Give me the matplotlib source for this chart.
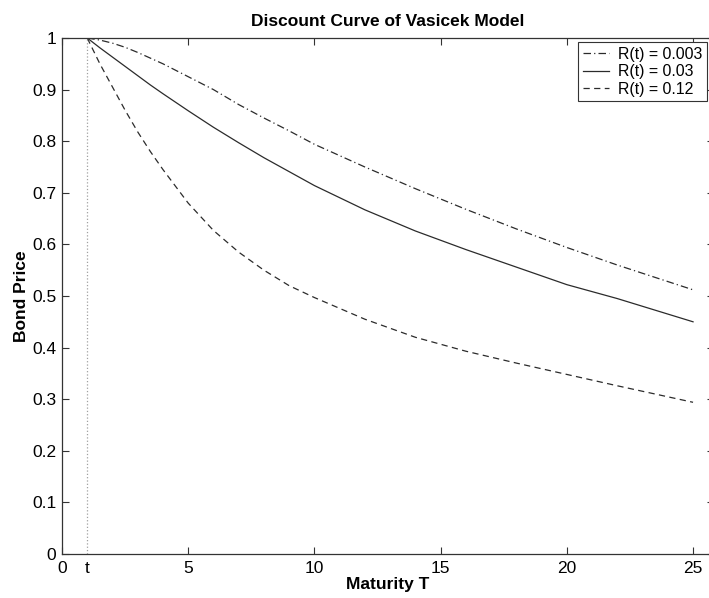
import matplotlib
matplotlib.use("Agg")
import matplotlib.pyplot as plt
from matplotlib.ticker import FuncFormatter

# Maturities (years) and read-off bond prices
maturity = [1, 1.5, 2, 2.5, 3, 3.5, 4, 5, 6, 7, 8, 9, 10, 12, 14, 16, 18, 20, 22, 25]
price_r0003 = [1.0, 0.996, 0.99, 0.982, 0.972, 0.961, 0.95, 0.925, 0.90, 0.871,
               0.845, 0.82, 0.794, 0.75, 0.708, 0.668, 0.63, 0.594, 0.56, 0.512]
price_r003 = [1.0, 0.981, 0.963, 0.945, 0.927, 0.909, 0.892, 0.859, 0.827, 0.797,
              0.768, 0.741, 0.714, 0.667, 0.626, 0.59, 0.556, 0.522, 0.495, 0.45]
price_r012 = [1.0, 0.95, 0.905, 0.86, 0.818, 0.78, 0.745, 0.68, 0.627, 0.585,
              0.55, 0.52, 0.497, 0.455, 0.42, 0.393, 0.37, 0.348, 0.326, 0.294]
labels = ["R(t) = 0.003", "R(t) = 0.03", "R(t) = 0.12"]
t_now = 1

plt.rcParams["font.family"] = ["Liberation Sans", "DejaVu Sans"]

fig = plt.figure(figsize=(7.09, 5.98), dpi=100)
ax = fig.add_axes([62 / 709, 44 / 598, 652 / 709, 516 / 598])

line_col = "#2b2b2b"
ax.plot(maturity, price_r0003, color=line_col, lw=0.9, ls=(0, (6, 2.5, 1, 2.5)), label=labels[0])
ax.plot(maturity, price_r003, color=line_col, lw=0.9, ls="-", label=labels[1])
ax.plot(maturity, price_r012, color=line_col, lw=0.9, ls=(0, (5, 3.5)), label=labels[2])
ax.plot([t_now, t_now], [0, 1], color="#a0a0a0", lw=0.9, ls=":")

ax.set_xlim(0, 25.83)
ax.set_ylim(0, 1)
ax.set_xticks([0, 5, 10, 15, 20, 25])
ax.set_xticks([t_now], minor=True)
ax.set_xticklabels(["t"], minor=True)
ax.set_yticks([i / 10 for i in range(11)])
ax.yaxis.set_major_formatter(FuncFormatter(lambda v, p: f"{v:g}"))
ax.tick_params(which="major", direction="in", length=5, width=0.8, top=True, right=True,
               labelsize=12.5, colors="#333333", labelcolor="black")
ax.tick_params(which="minor", length=0, labelsize=12.5)
ax.tick_params(axis="x", which="both", pad=5)
ax.tick_params(axis="y", pad=4)
for s in ax.spines.values():
    s.set_color("#333333")
    s.set_linewidth(0.9)

ax.set_title("Discount Curve of Vasicek Model", fontsize=12.5, fontweight="bold", pad=9)
ax.set_xlabel("Maturity T", fontsize=12.5, fontweight="bold", labelpad=1)
ax.set_ylabel("Bond Price", fontsize=12.5, fontweight="bold", labelpad=2)

leg = ax.legend(loc="upper right", bbox_to_anchor=(0.994, 0.998), fontsize=11.4,
                handlelength=1.65, handletextpad=0.57, borderpad=0.3, labelspacing=0.15,
                borderaxespad=0.2, fancybox=False, framealpha=1, edgecolor="#333333")
leg.get_frame().set_linewidth(0.8)

fig.savefig("out.png", dpi=100, facecolor="white")
